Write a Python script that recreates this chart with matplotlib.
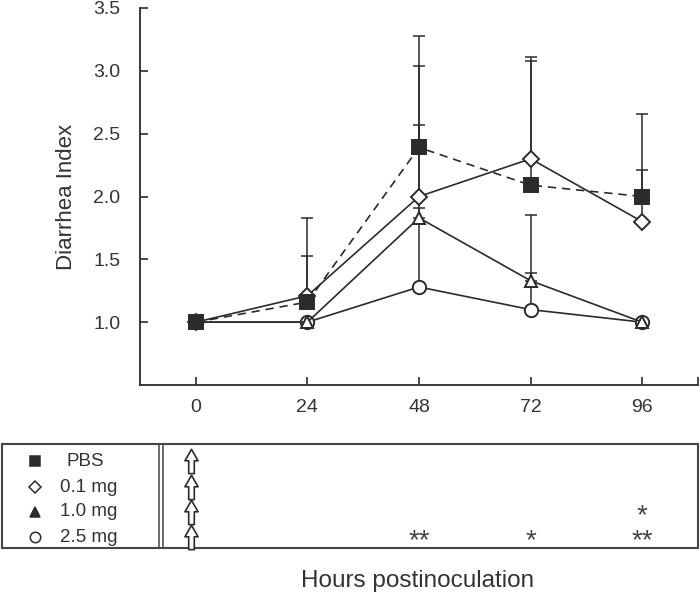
import numpy as np
import matplotlib
matplotlib.use("Agg")
import matplotlib.pyplot as plt
from matplotlib.path import Path
from matplotlib.patches import Rectangle

plt.rcParams['font.family'] = ['Liberation Sans', 'DejaVu Sans']

hours = [0, 24, 48, 72, 96]
series_names = ["PBS", "0.1 mg", "1.0 mg", "2.5 mg"]
pbs = [1.0, 1.16, 2.39, 2.09, 2.0]
pbs_upper = [np.nan, 1.83, 3.28, 3.11, 2.66]
mg01 = [1.0, 1.21, 2.0, 2.30, 1.80]
mg01_upper = [np.nan, 1.53, 3.04, 3.08, 2.21]
mg10 = [1.0, 1.0, 1.83, 1.33, 1.0]
mg10_upper = [np.nan, np.nan, 1.91, 1.39, np.nan]
mg25 = [1.0, 1.0, 1.28, 1.10, 1.0]
mg25_upper = [np.nan, np.nan, 2.57, 1.85, np.nan]
yticks = [1.0, 1.5, 2.0, 2.5, 3.0, 3.5]
# significance marks per row (row index: hour -> text)
sig_marks = {2: {96: "*"}, 3: {48: "**", 72: "*", 96: "**"}}
inoculation_hour = 0

W, H = 700, 599
fig = plt.figure(figsize=(W / 100, H / 100), dpi=100)
col = "#2b2b2b"

def fx(px):
    return px / W

def fy(py):
    return 1 - py / H

# main axes
ax_l, ax_r, ax_t, ax_b = 140, 698, 8, 385
ax = fig.add_axes([fx(ax_l), fy(ax_b), (ax_r - ax_l) / W, (ax_b - ax_t) / H])
xmin, xmax = -12, 108
ax.set_xlim(xmin, xmax)
ax.set_ylim(0.5, 3.5)
for s in ["top", "right"]:
    ax.spines[s].set_visible(False)
for s in ["left", "bottom"]:
    ax.spines[s].set_color(col)
    ax.spines[s].set_linewidth(1.3)
ax.set_xticks(hours)
ax.set_xticks([108], minor=True)
ax.set_yticks(yticks)
ax.set_yticklabels([f"{v:.1f}" for v in yticks])
ax.tick_params(axis="both", direction="in", length=6, width=1.2, colors=col,
               labelsize=14, labelcolor="#333333")
ax.tick_params(axis="x", which="minor", direction="in", length=6, width=1.2, colors=col)
ax.tick_params(axis="x", pad=10)
ax.tick_params(axis="y", pad=14)
ax.set_ylabel("Diarrhea Index", fontsize=16, color="#333333", labelpad=12)

x = np.array(hours, dtype=float)
specs = [
    (pbs, pbs_upper, dict(marker="s", ms=9.5, mfc=col, mec=col, ls=(0, (5, 3.5)))),
    (mg01, mg01_upper, dict(marker="D", ms=8.6, mfc="white", mec=col, ls="-")),
    (mg10, mg10_upper, dict(marker="^", ms=9.0, mfc="white", mec=col, ls="-")),
    (mg25, mg25_upper, dict(marker="o", ms=9.6, mfc="white", mec=col, ls="-")),
]
for vals, up, st in specs:
    v = np.array(vals)
    u = np.array(up)
    m = ~np.isnan(u)
    ax.errorbar(x[m], v[m], yerr=[np.zeros(m.sum()), (u - v)[m]], fmt="none",
                ecolor=col, elinewidth=1.1, capsize=4, capthick=1.1, zorder=2)
for vals, up, st in specs[::-1]:
    ax.plot(x, vals, color=col, lw=1.2, mew=1.4, zorder=3, **st)

# bottom table
t_l, t_r, t_t, t_b = 2, 698, 444, 548
tax = fig.add_axes([fx(t_l), fy(t_b), (t_r - t_l) / W, (t_b - t_t) / H])
px_per_h = (ax_r - ax_l) / (xmax - xmin)
x0px = ax_l - xmin * px_per_h
tax.set_xlim((t_l - x0px) / px_per_h, (t_r - x0px) / px_per_h)
tax.set_ylim(t_b, t_t)
tax.axis("off")
tax.add_patch(Rectangle((tax.get_xlim()[0], t_t), tax.get_xlim()[1] - tax.get_xlim()[0],
                        t_b - t_t, fill=False, ec="#444444", lw=1.5, clip_on=False))
for vx in (158.5, 162.5):
    hv = (vx - x0px) / px_per_h
    tax.plot([hv, hv], [t_t, t_b], color="#444444", lw=1.1, clip_on=False)

row_y = [461, 487, 512, 537]
leg_markers = [("s", col), ("D", "white"), ("^", col), ("o", "white")]
leg_ms = [7.8, 6.0, 7.5, 7.5]
mk_x = (35 - x0px) / px_per_h
for i, name in enumerate(series_names):
    mk, fc = leg_markers[i]
    tax.plot([mk_x], [row_y[i]], marker=mk, ms=leg_ms[i], mfc=fc, mec=col,
             mew=1.1, ls="none", clip_on=False)
    tx = 60 if i else 66
    tax.text((tx - x0px) / px_per_h, row_y[i], name, fontsize=13.5, color="#333333",
             ha="left", va="center")

# open up-arrow marker
arrow = Path([(0, 0.5), (-0.27, 0.03), (-0.115, 0.03), (-0.115, -0.5), (0.115, -0.5),
              (0.115, 0.03), (0.27, 0.03), (0, 0.5)],
             [Path.MOVETO] + [Path.LINETO] * 6 + [Path.CLOSEPOLY])
for i in range(4):
    tax.plot([inoculation_hour - 1], [row_y[i]], marker=arrow, ms=17.5, mfc="white",
             mec=col, mew=1.2, ls="none", clip_on=False)

for r, marks in sig_marks.items():
    for h, s in marks.items():
        tax.text(h, row_y[r] + 4, s, fontsize=20, color="#444444", ha="center", va="center")

fig.text(fx(418), fy(581), "Hours postinoculation", fontsize=17.5, color="#333333",
         ha="center", va="center")

fig.savefig("out.png", dpi=100)
